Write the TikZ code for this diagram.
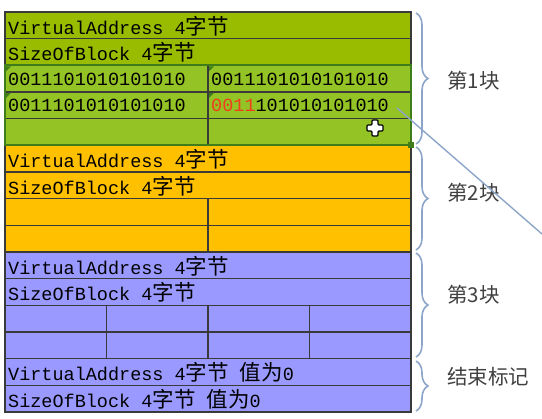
\documentclass[tikz,border=0pt]{standalone}
\usepackage{fontspec}
\setmonofont{Liberation Mono}
\newfontfamily\cjk{Noto Sans CJK SC}
\usetikzlibrary{decorations.pathreplacing, positioning}
\definecolor{blkgreen}{HTML}{99BB00}
\definecolor{selgreen}{HTML}{93C324}
\definecolor{selframe}{HTML}{3E7D1A}
\definecolor{blkorange}{HTML}{FFC000}
\definecolor{blkblue}{HTML}{9999FF}
\definecolor{gridline}{HTML}{3A3A3A}
\definecolor{bracegray}{HTML}{8CA5C8}
\definecolor{markred}{HTML}{F23C1E}
\newcommand{\zh}[1]{{\cjk\fontsize{21.5}{21.5}\selectfont #1}}
\tikzset{
  celltext/.style={anchor=west, inner sep=0pt, font=\ttfamily\fontsize{18.5}{20}\selectfont},
  blockbrace/.style={decorate, decoration={brace, amplitude=12pt}, bracegray, line width=1.6pt},
  blocklabel/.style={anchor=west, inner sep=0pt, text=black!75, font=\cjk\fontsize{20.5}{20.5}\selectfont},
}

\begin{document}
\begin{tikzpicture}[x=1pt, y=-1pt]
  \useasboundingbox (0,0) rectangle (542,419);
  % Block fills
  \fill[blkgreen] (5,12) rectangle (411,65.3);
  \fill[selgreen] (5,65.3) rectangle (411,145.3);
  \fill[blkorange] (5,145.3) rectangle (411,252);
  \fill[blkblue] (5,252) rectangle (411,412);
  % Rows
  \foreach \y in {38.7,65.3,92,118.7,145.3,172,198.7,225.3,252,278.7,305.3,332,358.7,385.3} {
    \draw[gridline, line width=1.2pt] (5,\y) -- (411,\y);
  }
  % Columns
  \draw[gridline, line width=1.2pt] (208,65.3) -- (208,145.3);
  \draw[gridline, line width=1.2pt] (208,198.7) -- (208,252);
  \foreach \x in {106.5,208,309.5} {
    \draw[gridline, line width=1.2pt] (\x,305.3) -- (\x,358.7);
  }
  \draw[gridline, line width=1.5pt] (5,12) rectangle (411,412);
  % Selection
  \draw[selframe, line width=2pt] (5,65.3) rectangle (411,145.3);
  \fill[selframe] (408,142.3) rectangle ++(6,6);
  \foreach \cx/\cy in {5/65.3,208/65.3,5/92,208/92} {
    \fill[selframe] (\cx+1,\cy+1) -- ++(5,0) -- ++(-5,5) -- cycle;
  }
  % Cell texts
  \node[celltext] (va1) at (8,26) {VirtualAddress 4\zh{字节}};
  \node[celltext] (sb1) at (8,52.5) {SizeOfBlock 4\zh{字节}};
  \node[celltext] (d11) at (8,79) {0011101010101010};
  \node[celltext] (d12) at (211,79) {0011101010101010};
  \node[celltext] (d21) at (8,105.5) {0011101010101010};
  \node[celltext] (d22) at (211,105.5) {\textcolor{markred}{0011}101010101010};
  \node[celltext] (va2) at (8,159.5) {VirtualAddress 4\zh{字节}};
  \node[celltext] (sb2) at (8,186) {SizeOfBlock 4\zh{字节}};
  \node[celltext] (va3) at (8,266) {VirtualAddress 4\zh{字节}};
  \node[celltext] (sb3) at (8,292.5) {SizeOfBlock 4\zh{字节}};
  \node[celltext] (va4) at (8,372.5) {VirtualAddress 4\zh{字节} \zh{值为}0};
  \node[celltext] (sb4) at (8,399) {SizeOfBlock 4\zh{字节} \zh{值为}0};
  % Braces
  \draw[blockbrace] (416,13) -- (416,144);
  \draw[blockbrace] (416,147) -- (416,250);
  \draw[blockbrace] (416,253) -- (416,357);
  \draw[blockbrace] (416,361) -- (416,411);
  \coordinate (tip1) at (430,78.5);
  \coordinate (tip2) at (430,198.5);
  \coordinate (tip3) at (430,305);
  \coordinate (tip4) at (430,386);
  \node[blocklabel, right=17pt of tip1, yshift=-2pt] (lab1) {第1块};
  \node[blocklabel, right=17pt of tip2, yshift=6pt] (lab2) {第2块};
  \node[blocklabel, right=17pt of tip3, yshift=10pt] (lab3) {第3块};
  \node[blocklabel, right=17pt of tip4, yshift=9pt] (lab4) {结束标记};
  % Pen stroke
  \coordinate (penA) at (397,108);
  \coordinate (penB) at (542,234);
  \draw[bracegray, line width=1.4pt] (penA) -- (penB);
  % Cursor
  \draw[black, line width=1.2pt, fill=white, rounded corners=1pt]
    (372,120) -- (378,120) -- (378,125) -- (383,125) -- (383,131) -- (378,131)
    -- (378,136) -- (372,136) -- (372,131) -- (367,131) -- (367,125) -- (372,125) -- cycle;
\end{tikzpicture}
\end{document}
